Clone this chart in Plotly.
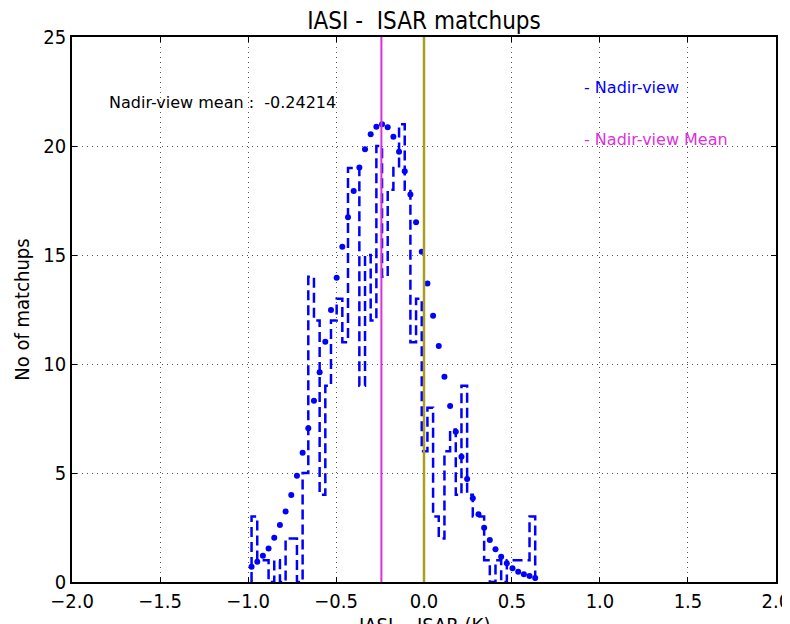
import numpy as np
import plotly.graph_objects as go

# ---- data ----
bin_start = -0.98
bin_end = 0.632
counts = [3, 1, 1, 0, 1, 0, 2, 2, 0, 5,
          14, 12, 4, 9, 12, 13, 11, 19, 19, 9,
          15, 12, 20, 14, 18, 19, 21, 18, 11, 13,
          6, 8, 3, 2, 6, 7, 4, 9, 4, 3,
          3, 1, 0, 1, 0, 1, 1, 1, 1, 3]
fit_values = [0.70, 0.93, 1.21, 1.54, 2.03, 2.61, 3.23, 3.99, 4.88, 5.93,
              7.05, 8.32, 9.62, 11.02, 12.48, 13.96, 15.38, 16.73, 17.94, 19.02,
              19.85, 20.54, 20.89, 21.0, 20.86, 20.43, 19.74, 18.85, 17.78, 16.50,
              15.15, 13.70, 12.22, 10.83, 9.42, 8.07, 6.89, 5.75, 4.72, 3.84,
              3.11, 2.49, 1.93, 1.50, 1.16, 0.86, 0.63, 0.47, 0.35, 0.28, 0.18]
mean_value = -0.24214
zero_value = 0.0
x_ticks = [-2.0, -1.5, -1.0, -0.5, 0.0, 0.5, 1.0, 1.5, 2.0]
y_ticks = [0, 5, 10, 15, 20, 25]

edges = np.linspace(bin_start, bin_end, len(counts) + 1)

# step outline of the histogram
step_x = [edges[0]] + list(edges[:-1]) + [edges[-1]]
step_y = [0] + list(counts) + [0]

FONT = "DejaVu Sans Condensed, DejaVu Sans, sans-serif"
FONT_R = "DejaVu Sans, sans-serif"

fig = go.Figure()
fig.add_trace(go.Scatter(
    x=step_x, y=step_y, mode="lines", line_shape="hv",
    line=dict(color="#0000ff", width=2.5, dash="10px,5px"),
    showlegend=False, hoverinfo="skip"))
fig.add_trace(go.Scatter(
    x=list(edges), y=fit_values, mode="markers",
    marker=dict(color="#0000ff", size=6),
    showlegend=False, hoverinfo="skip"))

fig.add_vline(x=mean_value, line=dict(color="#dd30dd", width=2), layer="above")
fig.add_vline(x=zero_value, line=dict(color="#aaa020", width=2.5), layer="above")

fig.add_annotation(x=-1.8, y=22, xref="x", yref="y", text="Nadir-view mean :  %.5f" % mean_value,
                   showarrow=False, xanchor="left", yanchor="middle",
                   font=dict(family=FONT_R, size=16, color="black"))
fig.add_annotation(x=0.9, y=22.7, xref="x", yref="y", text="- Nadir-view",
                   showarrow=False, xanchor="left", yanchor="middle",
                   font=dict(family=FONT_R, size=16, color="#0000ff"))
fig.add_annotation(x=0.9, y=20.3, xref="x", yref="y", text="- Nadir-view Mean",
                   showarrow=False, xanchor="left", yanchor="middle",
                   font=dict(family=FONT_R, size=16, color="#dd30dd"))
# x-axis title (cut by the bottom edge, as in the reference)
fig.add_annotation(x=0.5, y=-0.054, xref="paper", yref="paper", text="IASI -  ISAR (K)",
                   showarrow=False, xanchor="center", yanchor="top",
                   font=dict(family=FONT, size=20, color="black"))

axis_common = dict(
    showline=True, linecolor="black", linewidth=1.5, mirror="ticks",
    ticks="inside", ticklen=5, tickcolor="black",
    showgrid=True, gridcolor="#555555", gridwidth=1, griddash="1px,4px",
    zeroline=False, tickfont=dict(family=FONT, size=20, color="black"),
    automargin=False,
)
fig.update_xaxes(range=[-2.0005, 2.0005], tickvals=x_ticks,
                 ticktext=["%.1f" % v if v >= 0 else "\u2212%.1f" % abs(v) for v in x_ticks],
                 **axis_common)
fig.update_yaxes(range=[0, 25.005], tickvals=y_ticks,
                 title=dict(text="No of matchups", font=dict(family=FONT, size=20, color="black"), standoff=8),
                 **axis_common)

# the page adds an 8px body margin, so the figure margins compensate for it
fig.update_layout(
    width=790, height=624,
    margin=dict(l=64, r=22, t=29, b=50),
    paper_bgcolor="white", plot_bgcolor="white",
    title=dict(text="IASI -  ISAR matchups", x=0.5, xanchor="center", xref="paper",
               y=1 - 13 / 624, yanchor="middle",
               font=dict(family=FONT, size=24, color="black")),
    font=dict(family=FONT),
)

fig.write_html("out.html")
